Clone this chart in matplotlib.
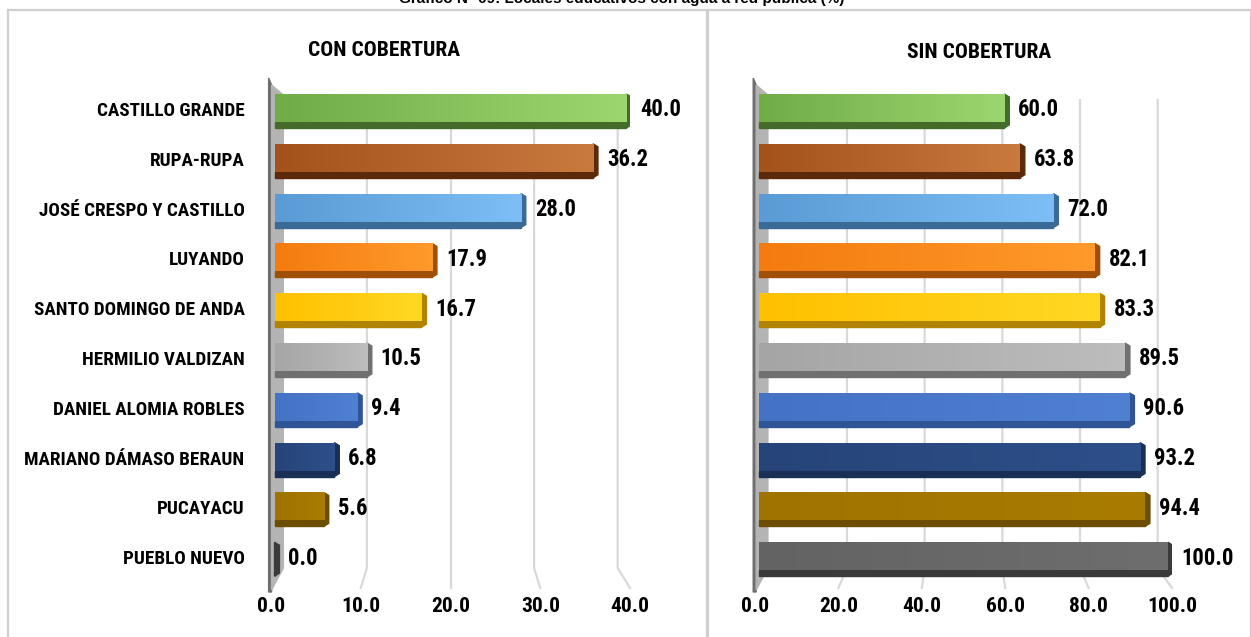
import numpy as np
import matplotlib.pyplot as plt
from matplotlib import font_manager as fm
from matplotlib.colors import LinearSegmentedColormap
from matplotlib.patches import Rectangle, Polygon

W, H = 1251, 637

districts = ["CASTILLO GRANDE", "RUPA-RUPA", "JOSÉ CRESPO Y CASTILLO", "LUYANDO",
             "SANTO DOMINGO DE ANDA", "HERMILIO VALDIZAN", "DANIEL ALOMIA ROBLES",
             "MARIANO DÁMASO BERAUN", "PUCAYACU", "PUEBLO NUEVO"]
con_cobertura = [40.0, 36.2, 28.0, 17.9, 16.7, 10.5, 9.4, 6.8, 5.6, 0.0]
sin_cobertura = [60.0, 63.8, 72.0, 82.1, 83.3, 89.5, 90.6, 93.2, 94.4, 100.0]
left_ticks = [0, 10, 20, 30, 40]
right_ticks = [0, 20, 40, 60, 80, 100]

# (dark end, light end, depth face)
bar_colors = [
    ("#70AD47", "#9CD66F", "#456B2B"),
    ("#A3521B", "#C97A3F", "#5C2A0A"),
    ("#5B9BD5", "#7EBEF7", "#3B6A97"),
    ("#F47B0F", "#FF9A2B", "#A04F06"),
    ("#FFC000", "#FFD824", "#B08400"),
    ("#A5A5A5", "#BDBDBD", "#707070"),
    ("#4472C4", "#5080D2", "#2F5597"),
    ("#264478", "#2D4F8A", "#1A2F55"),
    ("#9E7300", "#A97C00", "#6B4E00"),
    ("#636363", "#6E6E6E", "#3A3A3A"),
]

# look for a narrow bold face for the labels
preferred = [("NotoSans-ExtraCondensedBold", 1.0), ("NotoSans-CondensedBold", 0.86),
             ("RobotoCondensed-Bold", 0.86), ("LiberationSansNarrow-Bold", 0.8),
             ("DejaVuSansCondensed-Bold", 0.72)]
font_file, scale = None, 0.66
files = [f.fname for f in fm.fontManager.ttflist]
for key, s in preferred:
    hits = [p for p in files if key in p.replace(" ", "")]
    if hits:
        font_file, scale = hits[0], s
        break


def cfont(size):
    size = size * scale
    if font_file:
        return fm.FontProperties(fname=font_file, size=size)
    return fm.FontProperties(family="DejaVu Sans", weight="bold", size=size)


ROW0, STEP = 109.0, 49.8   # pixel centre of first row, row spacing


def px_rect(x0, y0, x1, y1):
    return [x0 / W, 1 - y1 / H, (x1 - x0) / W, (y1 - y0) / H]


def row_of(ypx):
    return (ypx - ROW0) / STEP


def draw_panel(ax, values, ticks, x0px, x1px):
    xmax = ticks[-1]
    n = len(values)
    u = xmax / (x1px - x0px)          # data units per pixel
    c = xmax / 2

    # side wall
    ax.add_patch(Polygon([(-6 * u, row_of(78)), (-3 * u, row_of(85)),
                          (-3 * u, row_of(592)), (-6 * u, row_of(592))],
                         closed=True, color="#6E6E6E", zorder=1, clip_on=False))
    ax.add_patch(Polygon([(-3 * u, row_of(85)), (9 * u, row_of(95)),
                          (9 * u, row_of(568)), (-3 * u, row_of(590))],
                         closed=True, color="#B4B4B4", zorder=1, clip_on=False))

    # gridlines on the back wall, bending onto the floor
    for t in ticks[1:]:
        back = c + (t - c) * 0.95
        front = c + (t - c) * 1.02
        ax.plot([back, back, front], [row_of(100), row_of(568), row_of(588)],
                color="#D9D9D9", lw=1.6, zorder=0, clip_on=False)

    for i, (v, (c0, c1, cd)) in enumerate(zip(values, bar_colors)):
        top, bot = i - 0.30, i + 0.26
        cap = 5 * u
        ax.add_patch(Polygon([(0, bot), (v, bot), (v, bot + 0.12), (0, bot + 0.12)],
                             closed=True, color=cd, zorder=2))
        ax.add_patch(Polygon([(v, top), (v + cap, top + 0.06), (v + cap, bot + 0.06),
                              (v, bot + 0.12)], closed=True, color=cd, zorder=2))
        if v > 0:
            face = Rectangle((0, top), v, bot - top, facecolor="none", edgecolor="none")
            ax.add_patch(face)
            cmap = LinearSegmentedColormap.from_list("bar%d" % i, [c0, c1])
            im = ax.imshow(np.linspace(0, 1, 256)[None, :], extent=(0, v, bot, top),
                           cmap=cmap, aspect="auto", zorder=3, interpolation="bilinear")
            im.set_clip_path(face)
        ax.annotate(f"{v:.1f}", xy=(v, i + 0.02), xytext=(10, 0), textcoords="offset points",
                    ha="left", va="center", color="black", fontproperties=cfont(19),
                    annotation_clip=False)

    ax.set_xlim(0, xmax)
    ax.set_ylim(n - 0.5, -0.5)
    ax.set_xticks([c + (t - c) * 1.02 for t in ticks], [f"{t:.1f}" for t in ticks])
    for lab in ax.get_xticklabels():
        lab.set_fontproperties(cfont(18))
    ax.tick_params(axis="x", length=0, pad=11)
    ax.tick_params(axis="y", length=0)
    for s in ax.spines.values():
        s.set_visible(False)
    ax.patch.set_alpha(0)


fig = plt.figure(figsize=(W / 100, H / 100), dpi=100)

# panel frames
for x0, x1 in [(8, 707), (708, 1251)]:
    fig.add_artist(Rectangle((x0 / W, -0.01), (x1 - x0) / W, 1 - 10 / H + 0.01,
                             transform=fig.transFigure, fill=False,
                             edgecolor="#CFCFCF", lw=1.6))

fig.text(0.497, 1 - 3 / H, "Gráfico N° 09: Locales educativos con agua a red pública (%)",
         ha="center", va="baseline", fontsize=11, fontweight="bold",
         family="Liberation Sans")

ax_l = fig.add_axes(px_rect(271, ROW0 - STEP / 2, 630, ROW0 + STEP * 9.5))
draw_panel(ax_l, con_cobertura, left_ticks, 271, 630)
ax_l.set_yticks(range(len(districts)), districts)
for lab in ax_l.get_yticklabels():
    lab.set_fontproperties(cfont(16))
ax_l.tick_params(axis="y", pad=19)

ax_r = fig.add_axes(px_rect(755, ROW0 - STEP / 2, 1172, ROW0 + STEP * 9.5))
draw_panel(ax_r, sin_cobertura, right_ticks, 755, 1172)
ax_r.set_yticks([])

fig.text(384 / W, 1 - 50 / H, "CON COBERTURA", ha="center", va="center",
         fontproperties=cfont(18))
fig.text(979 / W, 1 - 52 / H, "SIN COBERTURA", ha="center", va="center",
         fontproperties=cfont(18))

fig.savefig("out.png", dpi=100)
